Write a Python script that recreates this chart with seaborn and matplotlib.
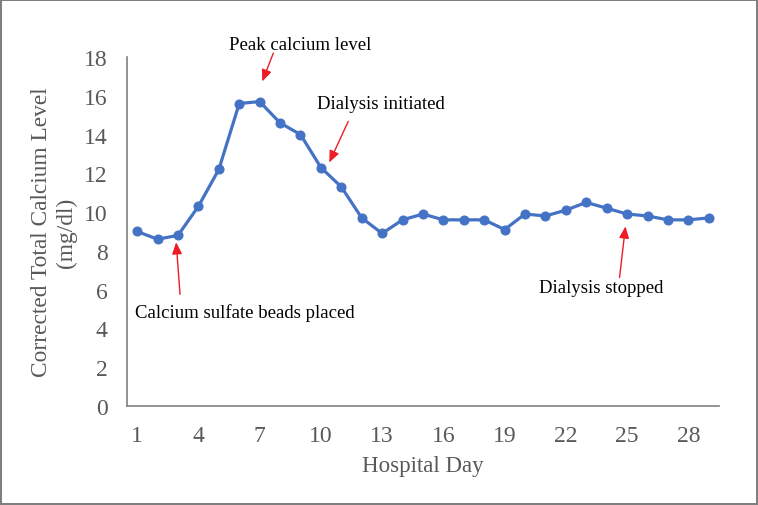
import matplotlib
matplotlib.use("Agg")
import matplotlib.pyplot as plt
import seaborn as sns
import pandas as pd

# =========================
# DATOS
# =========================
dias = list(range(1, 30))
calcio = [9.0, 8.6, 8.8, 10.3, 12.2, 15.6, 15.7, 14.6, 14.0, 12.3,
          11.3, 9.7, 8.9, 9.6, 9.9, 9.6, 9.6, 9.6, 9.1, 9.9,
          9.8, 10.1, 10.5, 10.2, 9.9, 9.8, 9.6, 9.6, 9.7]
ticks_x = [1, 4, 7, 10, 13, 16, 19, 22, 25, 28]
ticks_y = [0, 2, 4, 6, 8, 10, 12, 14, 16, 18]

# texto, posición del texto, cola de la flecha, punta de la flecha
notas = [
    ("Peak calcium level", (8.99, 18.64), (7.67, 18.2), (7.13, 16.74)),
    ("Dialysis initiated", (12.96, 15.6), (11.34, 14.68), (10.41, 12.56)),
    ("Calcium sulfate beads placed", (6.29, 4.83), (3.1, 5.76), (2.91, 8.44)),
    ("Dialysis stopped", (23.75, 6.12), (24.63, 6.63), (24.92, 9.26)),
]

df = pd.DataFrame({"Dia": dias, "Calcio": calcio})

sns.set_style("white")
plt.rcParams["font.family"] = ["Liberation Serif", "DejaVu Serif"]

GRIS = "#595959"
AZUL = "#4472C4"

fig = plt.figure(figsize=(7.58, 5.06), dpi=100)
fig.patch.set_edgecolor("#7f7f7f")
fig.patch.set_linewidth(1.5)
ax = fig.add_axes([0.1675, 0.1957, 0.781, 0.6897])

sns.lineplot(data=df, x="Dia", y="Calcio", ax=ax, color=AZUL, linewidth=2.3,
             marker="o", markersize=6.5, markeredgecolor=AZUL)

ax.set_xlim(0.5, 29.5)
ax.set_ylim(0, 18)
ax.set_xticks(ticks_x)
ax.set_yticks(ticks_y)
ax.tick_params(axis="both", length=0, labelsize=17, labelcolor=GRIS, pad=14)

for s in ["top", "right"]:
    ax.spines[s].set_visible(False)
for s in ["left", "bottom"]:
    ax.spines[s].set_color("#808080")
    ax.spines[s].set_linewidth(1.2)

ax.set_xlabel("Hospital Day", fontsize=16.5, color=GRIS, labelpad=6)
ax.set_ylabel("Corrected Total Calcium Level\n(mg/dl)", fontsize=16.8, color=GRIS,
              labelpad=5, linespacing=1.2)

for texto, pos, cola, punta in notas:
    ax.text(pos[0], pos[1], texto, ha="center", va="center", fontsize=13.5,
            color="black", clip_on=False)
    ax.annotate("", xy=punta, xytext=cola, annotation_clip=False,
                arrowprops=dict(arrowstyle="-|>,head_length=0.7,head_width=0.3",
                                color="#ee1c25", lw=1.0, shrinkA=0, shrinkB=0))

plt.savefig("out.png", dpi=100)
